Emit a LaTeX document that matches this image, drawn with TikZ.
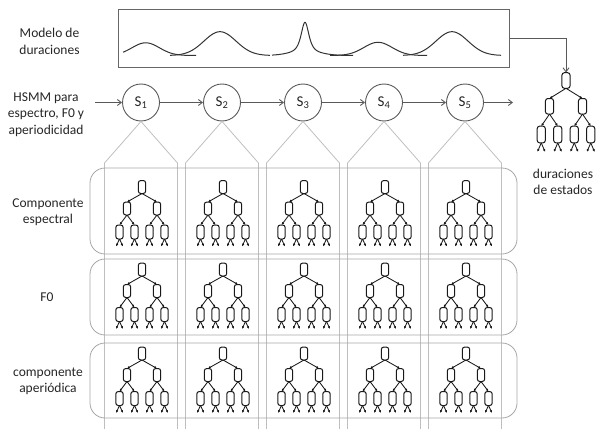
\documentclass[tikz,border=0pt]{standalone}
\usepackage{fontspec}
\setmainfont{Carlito}
\usetikzlibrary{arrows.meta}
\begin{document}
\begin{tikzpicture}[x=1pt,y=-1pt,
  lab/.style={font=\fontsize{13.5}{16.5}\selectfont, text=black!85, align=center, inner sep=0pt},
  state/.style={circle, draw=black!65, line width=0.9pt, minimum size=37pt, inner sep=0pt, font=\fontsize{15}{17}\selectfont, text=black!85},
  conn/.style={draw=black!65, line width=0.9pt, -{Straight Barb[length=4pt,width=6pt]}},
  colline/.style={draw=black!25, line width=0.8pt},
  rowbox/.style={draw=black!35, line width=0.8pt, rounded corners=15pt, minimum width=427pt, inner sep=0pt},
  durbox/.style={draw=black!60, line width=1pt, minimum width=391pt, minimum height=57pt, inner sep=0pt},
  curve/.style={draw=black!80, line width=1pt},
  tbox/.style={draw=black!90, line width=1pt, rounded corners=2.5pt},
  tedge/.style={draw=black!90, line width=0.85pt, -{Latex[length=2.8pt,width=2.6pt]}},
  pics/hmmtree/.style={code={
    \draw[tbox] (-3.7,-6.5) rectangle (3.7,6.5);
    \foreach \a in {-15,15}{
      \draw[tbox] (\a-3.7,15) rectangle (\a+3.7,28);
      \draw[tedge] (0,6.5) -- (\a,15);
      \foreach \b in {-7.5,7.5}{
        \draw[tbox] (\a+\b-3.7,38) rectangle (\a+\b+3.7,52);
        \draw[tedge] (\a,28) -- (\a+\b,38);
        \draw[tedge] (\a+\b,52) -- (\a+\b-3.5,59.5);
        \draw[tedge] (\a+\b,52) -- (\a+\b+3.5,59.5);
      }
    }
  }}
]
\useasboundingbox (0,0) rectangle (601,428);

% states
\foreach \i in {1,...,5}{
  \node[state] (s\i) at ({141+81*(\i-1)},102.5) {S\textsubscript{\i}};
}

% columns
\foreach \i in {1,...,5}{
  \pgfmathsetmacro{\cx}{141+81*(\i-1)}
  \draw[colline] (\cx-36.5,430) -- (\cx-36.5,163) -- (s\i.south) -- (\cx+36.5,163) -- (\cx+36.5,430);
}

% rows
\node[rowbox, minimum height=86pt] (r1) at (303.5,211) {};
\node[rowbox, minimum height=76pt] (r2) at (303.5,297) {};
\node[rowbox, minimum height=75pt] (r3) at (303.5,380.5) {};

% trees in cells
\foreach \i in {1,...,5}{
  \pgfmathsetmacro{\cx}{142+81*(\i-1)}
  \foreach \ry in {187,269.5,353.5}{
    \pic at (\cx,\ry) {hmmtree};
  }
}

% chain arrows
\coordinate (cin) at (95,102.5);
\coordinate (cout) at (513,102.5);
\draw[conn] (cin) -- (s1);
\draw[conn] (s1) -- (s2);
\draw[conn] (s2) -- (s3);
\draw[conn] (s3) -- (s4);
\draw[conn] (s4) -- (s5);
\draw[conn] (s5) -- (cout);

% duration box
\node[durbox] (dur) at (313.5,38.5) {};
\draw[curve] plot[domain=123:196, samples=70, smooth] (\x,{55.5-12.7*exp(-((\x-145.7)*(\x-145.7))/380)});
\draw[curve] plot[domain=170:270, samples=90, smooth] (\x,{55.5-23.8*exp(-((\x-220)*(\x-220))/512)});
\draw[curve] plot[domain=272:353, samples=120, smooth] (\x,{55.5-4*exp(-((\x-305)*(\x-305))/450)-29.2/((1+((\x-305)/7)*((\x-305)/7))*(1+((\x-305)/7)*((\x-305)/7)))});
\draw[curve] plot[domain=330:427, samples=90, smooth] (\x,{55.5-13.2*exp(-((\x-378)*(\x-378))/400)});
\draw[curve] plot[domain=403:501, samples=90, smooth] (\x,{55.5-23.8*exp(-((\x-452)*(\x-452))/512)});

% big tree
\pic[xscale=1.1,yscale=1.2] at (566,80.5) {hmmtree};
\coordinate (bigtop) at (566,72.5);
\draw[conn] (dur.east) -| (bigtop);

% labels
\node[lab] (lmod) at (49.5,41.5) {Modelo de\\duraciones};
\node[lab] (lhsmm) at (46,114.5) {HSMM para\\espectro, F0 y\\aperiodicidad};
\node[lab] (lesp) at (48,212) {Componente\\espectral};
\node[lab] (lf0) at (47,297) {F0};
\node[lab] (lap) at (48,381.5) {componente\\aperiódica};
\node[lab] (ldur) at (563,182) {duraciones\\de estados};
\end{tikzpicture}
\end{document}
